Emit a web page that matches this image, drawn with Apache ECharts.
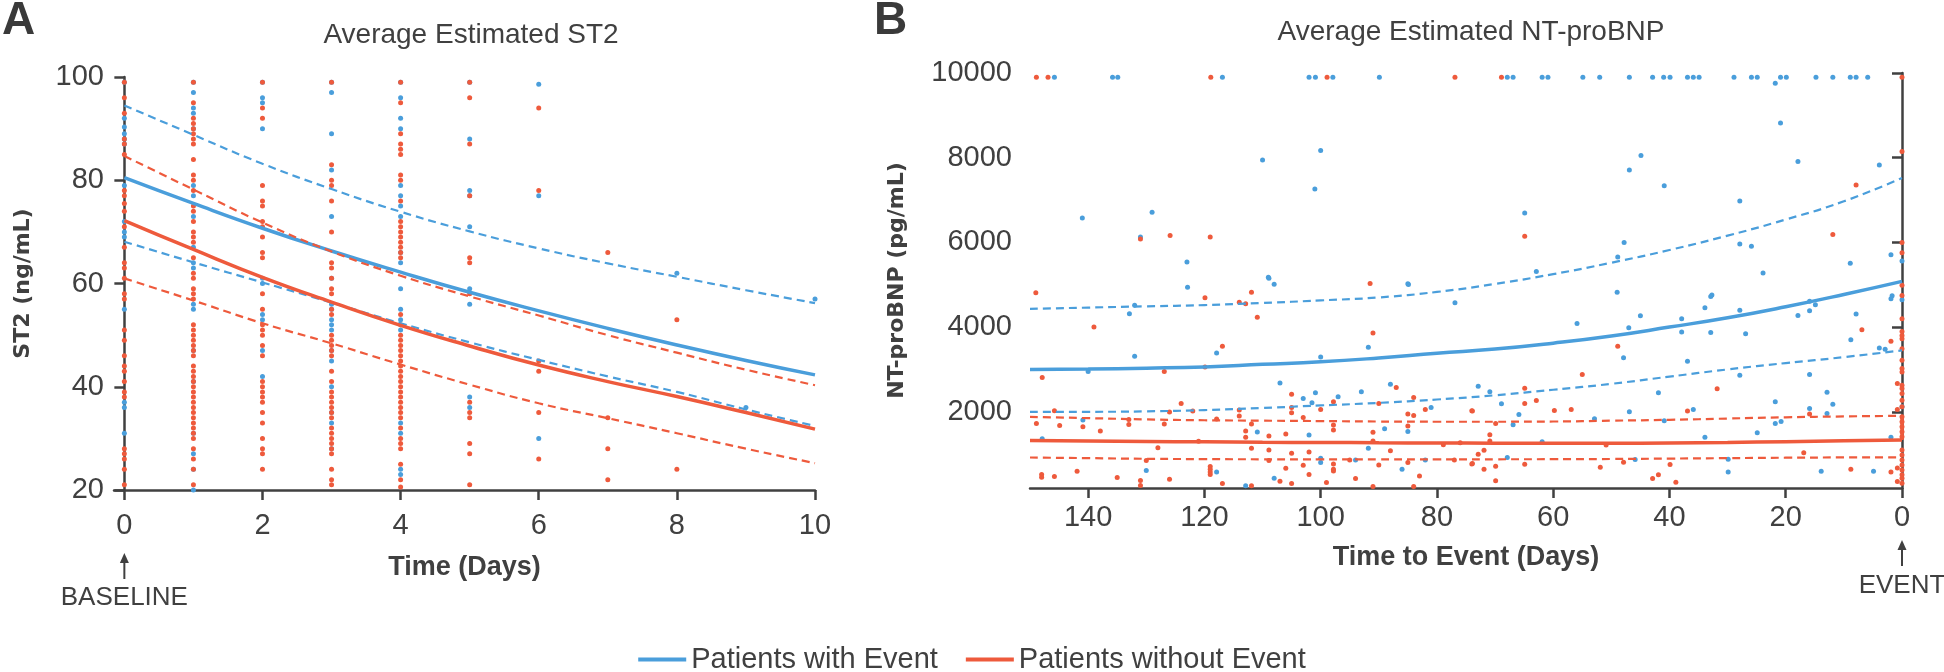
<!DOCTYPE html>
<html><head><meta charset="utf-8">
<script src="https://cdn.jsdelivr.net/npm/echarts@6/dist/echarts.min.js"></script>
<style>html,body{margin:0;padding:0;background:#fff}#c{width:1944px;height:672px}</style>
</head><body><div id="c"></div>
<script>
// ---------- Panel A: ST2 ----------
const st2Days = [0,1,2,3,4,5,6,7,8,9,10];
const st2XTicks = [0,2,4,6,8,10];
// dots per day (index = day)
const st2WithEventDots = [
  [99,92,90.3,89,88,87,79,72,70,69,55,37,36,31],
  [99,97,94,93,90,79,77,73,67,64,63,56,55,47,41,31,27,24,20],
  [99,96,95,90,61,60,54,53,47,42],
  [99,97,89,82,73,61,56,55,53,52,51,47,45,40,35,33,28],
  [99,96,92,90,79,77,75,73,66,64,59,55,53,51,33,31,24,23],
  [99,88,78,77,71,59,56,38,36],
  [98.6,77,30],
  [],
  [62],
  [36],
  [57]
];
const st2WithoutEventDots = [
  [99,96,93,88,87,85,78,77,75.5,74,71,67,64,63,61,58,57,51,49,46,44,43,41,39,38,28,27,26,24,21],
  [99,95,92,91,90,89,88,87,84,81,80,78,75,74,72,70,69,68,65,62,61,59,58,57,52,51,50,49,48,47,46,44,43,42,41,40,39,38,37,36,35,34,33,32,31,30,28,26,24,21],
  [99,94,92,79,76,75,72,71,69,66,65,58,55,52,51,50,48,46,41,40,39,38,37,35,33,30,28,27,24],
  [99,83,80,79,76,70,64,63,61,59,58,55,54,50,49,48,47,46,43,41,39,38,37,36,35,34,32,31,30,29,28,27,24,22,21],
  [99,95,89,87,86,85,81,80,76,72,71,70,69,68,67,66,65,54,52,50,49,48,47,46,45,44,43,42,41,40,39,38,37,36,35,34,32,30,29,28,25,22,20.6],
  [99,96,87,77,65,64,58,37,35,34,29,27,21],
  [94,78,45,43,35,26],
  [66,34,28,22],
  [53,24],
  [],
  []
];
const st2WithEventMean  = [80.5,75.5,70.7,66.3,62.2,58.3,54.7,51.3,48.1,45.1,42.3];
const st2WithEventUpper = [94.5,88.8,83.2,78.3,73.9,70.1,66.8,63.9,61.3,58.7,56.2];
const st2WithEventLower = [68.1,64.1,60.2,56.3,52.3,48.6,45.2,42.0,39.0,35.6,32.4];
const st2WithoutEventMean  = [72.2,66.6,61.2,56.4,51.9,47.9,44.2,41.0,38.1,35.0,31.8];
const st2WithoutEventUpper = [84.7,78.2,71.8,66.2,61.5,57.5,53.8,50.0,46.6,43.3,40.3];
const st2WithoutEventLower = [61.0,56.7,52.3,48.4,44.3,40.4,36.8,33.9,31.0,28.0,25.2];

// ---------- Panel B: NT-proBNP ----------
const bnpDays = [150,140,130,120,110,100,90,80,70,60,50,40,30,20,10,0];
const bnpXTicks = [0,20,40,60,80,100,120,140];
const bnpYTicks = [2000,4000,6000,8000,10000];
const bnpWithEventMean  = [3000,3010,3030,3060,3120,3180,3270,3380,3480,3620,3790,4000,4220,4480,4770,5080];
const bnpWithEventUpper = [4430,4460,4490,4520,4570,4630,4700,4830,5020,5250,5520,5820,6160,6540,6970,7520];
const bnpWithEventLower = [2000,2000,2010,2040,2090,2150,2210,2290,2390,2520,2660,2830,3000,3150,3290,3450];
const bnpWithoutEventMean  = [1320,1310,1300,1290,1280,1275,1268,1262,1258,1255,1256,1262,1275,1295,1315,1335];
const bnpWithoutEventUpper = [1880,1850,1820,1800,1790,1780,1770,1765,1765,1770,1790,1810,1840,1870,1890,1905];
const bnpWithoutEventLower = [920,905,890,882,878,876,875,876,878,880,885,895,905,915,922,925];
const bnpWithoutEventTail = [[0,1335],[0,1905]];
const bnpWithEventDots = [
  [145.8,9900],[135.8,9900],[134.9,9900],[116.9,9900],[102,9900],[100.9,9900],[97.9,9900],[89.9,9900],
  [67.9,9900],[66.9,9900],[61.9,9900],[60.9,9900],[54.9,9900],[52,9900],[46.9,9900],[42.9,9900],[41,9900],
  [39.9,9900],[36.9,9900],[35.9,9900],[34.9,9900],[28.9,9900],[25.9,9900],[24.9,9900],[20.9,9900],[19.9,9900],
  [14.8,9900],[11.9,9900],[8.9,9900],[7.9,9900],[5.9,9900],[21.8,9760],
  [141,6576],[129,6709],[131,6127],[123,5537],[109,5174],[110,7946],[100,8172],[101,7261],
  [20.9,8819],[44.9,8054],[46.9,7710],[40.9,7339],[17.9,7913],[3.9,7828],[27.9,6977],[64.9,6694],
  [47.8,6000],[27.9,5962],[25.9,5906],[48.9,5655],[1.9,5710],[0,5561],[8.9,5505],[62.9,5315],[23.9,5277],
  [85,5025],[49,4820],[32.7,4760],[1.7,4740],
  [122.9,4941],[108.9,5153],[108,5012],[84.9,5004],[76.9,4573],[132.9,4314],[132,4518],[91.8,3521],
  [117.9,3388],[132,3310],[140,2949],[100,3294],[107,2682],[103,2314],[100.9,2447],[97,2353],[93,2471],
  [88,2651],[81,2102],[101.5,2212],[140.9,1804],[110.9,1522],[102,1451],[89,1600],[85,1537],[147.9,1365],
  [91.8,1137],[100,902],[100,800],[94,863],[82,863],[86,643],[117.9,580],[130,612],[108,431],[112.9,251],
  [55.9,4086],[47,3984],[45,4267],[47.9,3278],[37.9,4196],[37.9,3882],[33.9,4455],[32.9,4722],[32.9,3875],
  [27.9,4400],[26.9,3843],[36.9,3192],[27.9,2863],[17.9,4275],[15.9,4384],[15.9,4612],[14.9,4525],[7.9,4306],
  [8.8,3702],[3.9,3506],[2.9,3475],[1.9,4667],[15.9,2878],[12.9,2463],[11.9,2180],[12.9,1961],[15.9,2078],
  [21.8,2235],[21.8,1725],[20.8,1773],[24.9,1506],[33.9,1396],[1.9,1396],[35.9,2055],[41.9,2447],[40.9,1788],
  [46.9,2000],[52.9,1835],[72.9,2604],[70.9,2471],[68.9,2188],[65.9,1937],[66.9,1694],[67.9,918],[61.9,1294],
  [45.9,871],[29.9,878],[29.9,580],[13.9,596],[4.9,596],[0,4643],[0,2118]
];
const bnpWithoutEventDots = [
  [148.9,9900],[146.9,9900],[118.9,9900],[98.9,9900],[76.9,9900],[68.9,9900],[0,9900],
  [131,6080],[125.9,6165],[119,6127],[0,8149],[7.9,7355],[64.9,6142],[11.9,6189],[0,6000],[0,5757],
  [149,4810],[119.9,4690],[114,4588],[112.9,4549],[111.9,4824],[110.9,4235],[91.5,5030],
  [139,4000],[91,3859],[116.9,3545],[147.9,2808],[126.9,2949],[119.9,3059],[105,2416],[87,2573],[84,2337],
  [90,2196],[82,2055],[74,2024],[85,1945],[84,1914],[124,2196],[122,2016],[126,1992],[145.8,2024],[105,2102],
  [105,1976],[97.8,2235],[100,2055],[114,2039],[114,1898],[117.9,1827],[148.9,1725],[144.9,1678],[140.9,1647],
  [137.9,1545],[133,1820],[133,1702],[126.9,1710],[112.9,1545],[111.9,1710],[108.9,1427],[112.9,1396],[106,1474],
  [103,1867],[97.8,1686],[97.8,1569],[91,1514],[85,1663],[121,1302],[91,1310],[128,1153],[111.9,1137],
  [108.9,1098],[105,1020],[102,1051],[88,1082],[78.9,1224],[76,1271],[130,847],[108.9,847],[97.8,769],
  [97.8,643],[97.8,604],[95,863],[85,800],[77,863],[74,769],[90,745],[103,737],[102,517],[106,667],[148,517],
  [148,455],[145.8,470],[141.9,596],[135,447],[119,706],[119,643],[119,580],[119,517],[126,408],[131,376],
  [131,259],[116.9,306],[107,361],[105,306],[99,329],[94,423],[83,486],[111.9,251],[91,235],[84,235],
  [48.9,3545],[55,2878],[31.8,2541],[6.9,3937],[1.9,3663],[0.8,2667],[0.8,2055],[36.9,2016],[56.9,2055],
  [59.8,2031],[64.9,2557],[64.9,2196],[62.9,2267],[73.9,2016],[70.9,1459],[70.9,1310],[69.9,1725],[72.9,996],
  [71.9,1090],[73.9,776],[71.9,643],[69.9,714],[69.9,369],[64.9,761],[50.9,1216],[51.9,690],[47.9,808],
  [42.9,424],[41.9,510],[39.9,753],[38.9,337],[16.9,1035],[8.8,643],[1.9,580],[0.8,675],[0.8,353],[15.9,1945],
  [0,4988],[0,4745],[0,4196],[0,3898],[0,3804],[0,3725],[0,3490],[0,3216],[0,3020],[0,2941],[0,2627],[0,2549],
  [0,2431],[0,2275],[0,2118],[0,1882],[0,1765],[0,1647],[0,1529],[0,1412],[0,1098],[0,980],[0,863],[0,745],
  [0,627],[0,510],[0,431],[0,314]
];

const BLUE = '#4A9EDB', RED = '#EE5A3C', INK = '#404040';
const FONT = "'Liberation Sans', Arial, sans-serif";
const BOLDWIDE = "'DejaVu Sans', Verdana, sans-serif";

const pairs = (xs, ys) => xs.map((x, i) => [x, ys[i]]);
const dayDots = (lists) => lists.flatMap((vals, d) => vals.map(v => [st2Days[d], v]));

function lineSeries(name, xi, data, color, dashed) {
  return {
    name, type: 'line', xAxisIndex: xi, yAxisIndex: xi, data, smooth: true,
    symbol: 'none', silent: true, z: 3, color,
    itemStyle: { color },
    lineStyle: { color, width: dashed ? 2.2 : 3.5, type: dashed ? [8, 5] : 'solid' }
  };
}
function dotSeries(name, xi, data, color) {
  return {
    name, type: 'scatter', xAxisIndex: xi, yAxisIndex: xi, data, symbolSize: 5,
    itemStyle: { color, opacity: 1 }, silent: true, z: 2
  };
}

const axisLineStyle = { show: true, lineStyle: { color: INK, width: 2.5 } };
const tickStyle = { show: true, length: 10, lineStyle: { color: INK, width: 2.5 } };
const labelStyle = { color: INK, fontFamily: FONT, fontSize: 29 };

const option = {
  animation: false,
  title: [
    { text: 'Average Estimated ST2', left: 466, top: 16, textAlign: 'center',
      textStyle: { color: INK, fontFamily: FONT, fontSize: 28, fontWeight: 'normal' } },
    { text: 'Average Estimated NT-proBNP', left: 1466, top: 13, textAlign: 'center',
      textStyle: { color: INK, fontFamily: FONT, fontSize: 28, fontWeight: 'normal' } }
  ],
  legend: {
    data: [
      { name: 'Patients with Event', icon: 'rect', itemStyle: { color: BLUE } },
      { name: 'Patients without Event', icon: 'rect', itemStyle: { color: RED } }
    ],
    left: 'center', top: 640, itemWidth: 48, itemHeight: 4, itemGap: 28,
    textStyle: { color: INK, fontFamily: FONT, fontSize: 29 }
  },
  grid: [
    { left: 114, right: 1129, top: 77, bottom: 182 },
    { left: 1030, right: 42, top: 73, bottom: 184 }
  ],
  xAxis: [
    { type: 'value', gridIndex: 0, min: -0.15, max: 10,
      name: 'Time (Days)', nameLocation: 'middle', nameGap: 64,
      nameTextStyle: { color: INK, fontFamily: FONT, fontSize: 27, fontWeight: 'bold' },
      axisLine: axisLineStyle, axisTick: Object.assign({ customValues: st2XTicks }, tickStyle),
      axisLabel: Object.assign({ customValues: st2XTicks, margin: 21 }, labelStyle),
      splitLine: { show: false } },
    { type: 'value', gridIndex: 1, min: 0, max: 150, inverse: true,
      name: 'Time to Event (Days)', nameLocation: 'middle', nameGap: 56,
      nameTextStyle: { color: INK, fontFamily: FONT, fontSize: 27, fontWeight: 'bold' },
      axisLine: axisLineStyle, axisTick: Object.assign({ customValues: bnpXTicks }, tickStyle),
      axisLabel: Object.assign({ customValues: bnpXTicks, margin: 15 }, labelStyle),
      splitLine: { show: false } }
  ],
  yAxis: [
    { type: 'value', gridIndex: 0, min: 20, max: 100, interval: 20,
      name: 'ST2 (ng/mL)', nameLocation: 'middle', nameGap: 80,
      nameTextStyle: { color: INK, fontFamily: BOLDWIDE, fontSize: 22, fontWeight: 'bold' },
      axisLine: axisLineStyle, axisTick: tickStyle,
      axisLabel: Object.assign({ margin: 10 }, labelStyle),
      splitLine: { show: false } },
    { type: 'value', gridIndex: 1, min: 200, max: 10000,
      name: 'NT-proBNP (pg/mL)', nameLocation: 'middle', nameGap: 122,
      nameTextStyle: { color: INK, fontFamily: BOLDWIDE, fontSize: 22, fontWeight: 'bold' },
      axisLine: axisLineStyle, axisTick: Object.assign({ customValues: bnpYTicks }, tickStyle),
      axisLabel: Object.assign({ customValues: bnpYTicks, margin: 18, formatter: v => String(v) }, labelStyle),
      splitLine: { show: false } }
  ],
  series: [
    dotSeries('A with dots', 0, dayDots(st2WithEventDots), BLUE),
    dotSeries('A without dots', 0, dayDots(st2WithoutEventDots), RED),
    lineSeries('Patients with Event', 0, pairs(st2Days, st2WithEventMean), BLUE, false),
    lineSeries('A with upper', 0, pairs(st2Days, st2WithEventUpper), BLUE, true),
    lineSeries('A with lower', 0, pairs(st2Days, st2WithEventLower), BLUE, true),
    lineSeries('Patients without Event', 0, pairs(st2Days, st2WithoutEventMean), RED, false),
    lineSeries('A without upper', 0, pairs(st2Days, st2WithoutEventUpper), RED, true),
    lineSeries('A without lower', 0, pairs(st2Days, st2WithoutEventLower), RED, true),
    dotSeries('B with dots', 1, bnpWithEventDots, BLUE),
    dotSeries('B without dots', 1, bnpWithoutEventDots, RED),
    lineSeries('B with mean', 1, pairs(bnpDays, bnpWithEventMean), BLUE, false),
    lineSeries('B with upper', 1, pairs(bnpDays, bnpWithEventUpper), BLUE, true),
    lineSeries('B with lower', 1, pairs(bnpDays, bnpWithEventLower), BLUE, true),
    lineSeries('B without mean', 1, pairs(bnpDays, bnpWithoutEventMean), RED, false),
    lineSeries('B without upper', 1, pairs(bnpDays, bnpWithoutEventUpper), RED, true),
    lineSeries('B without lower', 1, pairs(bnpDays, bnpWithoutEventLower), RED, true),
    Object.assign(lineSeries('B without tail', 1, bnpWithoutEventTail, RED, false), { smooth: false })
  ]
};

const chart = echarts.init(document.getElementById('c'), null, { renderer: 'canvas' });
chart.setOption(option);

const xA0 = chart.convertToPixel({ xAxisIndex: 0 }, 0);
const xB0 = chart.convertToPixel({ xAxisIndex: 1 }, 0);
function arrow(x, yTop, yBot) {
  return [
    { type: 'line', shape: { x1: x, y1: yBot, x2: x, y2: yTop + 8 }, style: { stroke: INK, lineWidth: 2 }, silent: true },
    { type: 'polygon', shape: { points: [[x - 4.5, yTop + 10], [x + 4.5, yTop + 10], [x, yTop]] }, style: { fill: INK }, silent: true }
  ];
}
chart.setOption({
  graphic: [
    { type: 'text', left: 2, top: -2, style: { text: 'A', fill: '#3a3a3a', font: "bold 46px 'Liberation Sans', Arial, sans-serif" }, silent: true },
    { type: 'text', left: 874, top: -2, style: { text: 'B', fill: '#3a3a3a', font: "bold 46px 'Liberation Sans', Arial, sans-serif" }, silent: true },
    ...arrow(xA0, 553, 579),
    ...arrow(xB0, 540, 566),
    { type: 'text', x: xA0, y: 598, style: { text: 'BASELINE', fill: INK, font: "26px 'Liberation Sans', Arial, sans-serif", align: 'center', verticalAlign: 'middle' }, silent: true },
    { type: 'text', x: xB0, y: 586, style: { text: 'EVENT', fill: INK, font: "26px 'Liberation Sans', Arial, sans-serif", align: 'center', verticalAlign: 'middle' }, silent: true }
  ]
});
</script></body></html>
